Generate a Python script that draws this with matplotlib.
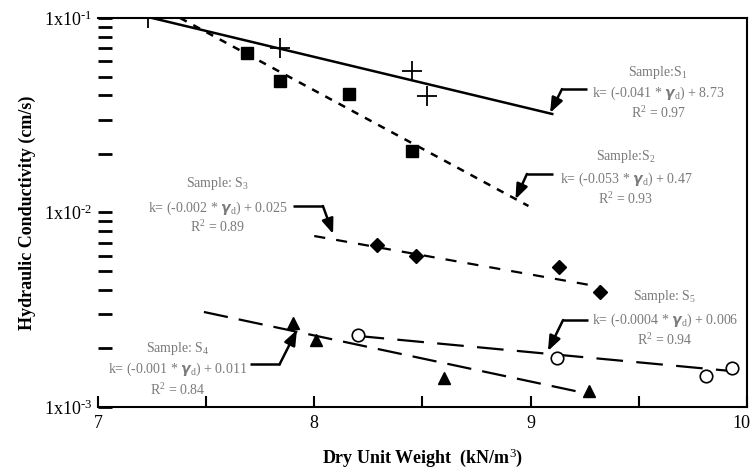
import numpy as np
import matplotlib
matplotlib.use("Agg")
import matplotlib.pyplot as plt
import matplotlib.transforms as mtransforms
from matplotlib.ticker import LogLocator, MultipleLocator, FuncFormatter, NullFormatter

plt.rcParams['font.family'] = ['Liberation Serif', 'DejaVu Serif']
plt.rcParams['mathtext.fontset'] = 'custom'
plt.rcParams['mathtext.rm'] = 'Liberation Serif'
plt.rcParams['mathtext.it'] = 'Liberation Serif:italic'
plt.rcParams['mathtext.bf'] = 'Liberation Serif:bold'
plt.rcParams['axes.unicode_minus'] = False

# measured points (dry unit weight kN/m3, hydraulic conductivity cm/s)
s1_x = [7.23, 7.84, 8.45, 8.52]
s1_k = [0.100, 0.070, 0.0534, 0.0397]
s2_x = [7.69, 7.84, 8.16, 8.45]
s2_k = [0.066, 0.0474, 0.0406, 0.0207]
s3_x = [8.29, 8.47, 9.13, 9.32]
s3_k = [0.0068, 0.00597, 0.00525, 0.0039]
s4_x = [7.90, 8.01, 8.60, 9.27]
s4_k = [0.0027, 0.00221, 0.00141, 0.00121]
s5_x = [8.20, 9.12, 9.81, 9.93]
s5_k = [0.00234, 0.00179, 0.00144, 0.00159]

# fitted trend lines (end points)
s1_fit_x = [7.25, 9.10]
s1_fit_k = [0.100, 0.0321]
s2_fit_x = [7.38, 8.99]
s2_fit_k = [0.100, 0.0108]
s3_fit_x = [8.00, 9.32]
s3_fit_k = [0.00757, 0.00415]
s4_fit_x = [7.49, 9.25]
s4_fit_k = [0.00308, 0.00118]
s5_fit_x = [8.20, 9.93]
s5_fit_k = [0.00232, 0.00153]

samples = ["S$_1$", "S$_2$", "S$_3$", "S$_4$", "S$_5$"]
slopes = ["-0.041", "-0.053", "-0.002", "-0.001", "-0.0004"]
intercepts = ["8.73", "0.47", "0.025", "0.011", "0.006"]
r2 = ["0.97", "0.93", "0.89", "0.84", "0.94"]

fig = plt.figure(figsize=(7.53, 4.73), dpi=100)
ax = fig.add_axes([0.130, 0.1395, 0.862, 0.8225])

ax.plot(s1_fit_x, s1_fit_k, color='black', lw=1.8, ls='-')
ax.plot(s2_fit_x, s2_fit_k, color='black', lw=1.8, ls=(0, (3, 3)))
ax.plot(s3_fit_x, s3_fit_k, color='black', lw=1.6, ls=(0, (5, 5)))
ax.plot(s4_fit_x, s4_fit_k, color='black', lw=1.6, ls=(0, (11, 5)))
ax.plot(s5_fit_x, s5_fit_k, color='black', lw=1.6, ls=(0, (12, 6)))

ax.plot(s1_x, s1_k, ls='none', marker='+', ms=15, mew=1.3, color='black')
ax.plot(s2_x, s2_k, ls='none', marker='s', ms=9, color='black')
ax.plot(s3_x, s3_k, ls='none', marker='D', ms=7, color='black')
ax.plot(s4_x, s4_k, ls='none', marker='^', ms=9, color='black')
ax.plot(s5_x, s5_k, ls='none', marker='o', ms=9, mfc='white', mew=1.2, color='black')

ax.set_xlim(7, 10)
ax.set_yscale('log')
ax.set_ylim(1e-3, 1e-1)

ax.spines['left'].set_visible(False)
for s in ['top', 'right', 'bottom']:
    ax.spines[s].set_linewidth(1.5)

ax.xaxis.set_major_locator(MultipleLocator(0.5))
ax.xaxis.set_major_formatter(FuncFormatter(lambda v, p: f"{v:.0f}" if abs(v - round(v)) < 1e-6 else ""))
ax.tick_params(axis='x', direction='in', length=8, width=1.5, labelsize=13, pad=6)
ax.yaxis.set_major_locator(LogLocator(base=10, numticks=5))
ax.yaxis.set_minor_locator(LogLocator(base=10, subs=np.arange(2, 10), numticks=20))
ax.yaxis.set_minor_formatter(NullFormatter())
ax.yaxis.set_major_formatter(FuncFormatter(lambda v, p: r"1x10$^{\text{-%d}}$" % abs(round(np.log10(v)))))
ax.tick_params(axis='y', which='both', direction='in', length=10, width=2, labelsize=13)
ax.tick_params(axis='y', which='major', pad=4)

ax.set_xlabel("Dry Unit Weight  (kN/m$^3$)", fontsize=13, fontweight='bold', labelpad=10)
ax.set_ylabel("Hydraulic Conductivity (cm/s)", fontsize=13, fontweight='bold', labelpad=6)

# keep the "10" at the right edge inside the canvas
fig.canvas.draw()
for lab in ax.get_xticklabels():
    if lab.get_text() == "10":
        lab.set_transform(lab.get_transform() + mtransforms.ScaledTranslation(-6 / 100, 0, fig.dpi_scale_trans))

# annotation blocks: (text center x, y of three lines, elbow start x, elbow x, elbow y, arrow tip)
gray = '#7a7a7a'
blocks = [
    (9.59, [0.0527, 0.0411, 0.0325], 9.26, 9.145, 0.0431, (9.09, 0.0325)),
    (9.44, [0.0195, 0.01486, 0.01173], 9.104, 8.983, 0.01578, (8.93, 0.0117)),
    (7.555, [0.01403, 0.01055, 0.00841], 7.90, 8.04, 0.0108, (8.087, 0.00776)),
    (7.37, [0.00201, 0.00157, 0.00122], 7.703, 7.84, 0.00166, (7.92, 0.00249)),
    (9.62, [0.00368, 0.0028, 0.00221], 9.265, 9.15, 0.0028, (9.08, 0.00194)),
]
for i, (cx, ys, x0, x1, ye, tip) in enumerate(blocks):
    sep = ":" if i < 2 else ": "
    ax.text(cx, ys[0], "Sample" + sep + samples[i], ha='center', va='center', fontsize=10, color=gray)
    ax.text(cx, ys[1], "k= (" + slopes[i] + r" * $\boldsymbol{\gamma}_{\mathrm{d}}$) + " + intercepts[i],
            ha='center', va='center', fontsize=10, color=gray)
    ax.text(cx, ys[2], "R$^2$ = " + r2[i], ha='center', va='center', fontsize=10, color=gray)
    ax.plot([x0, x1], [ye, ye], color='black', lw=1.8, solid_capstyle='butt')
    ax.annotate("", xy=tip, xytext=(x1, ye),
                arrowprops=dict(arrowstyle='-|>,head_length=0.9,head_width=0.35', color='black', lw=1.8,
                                shrinkA=0, shrinkB=0))

fig.savefig("out.png", dpi=100)
